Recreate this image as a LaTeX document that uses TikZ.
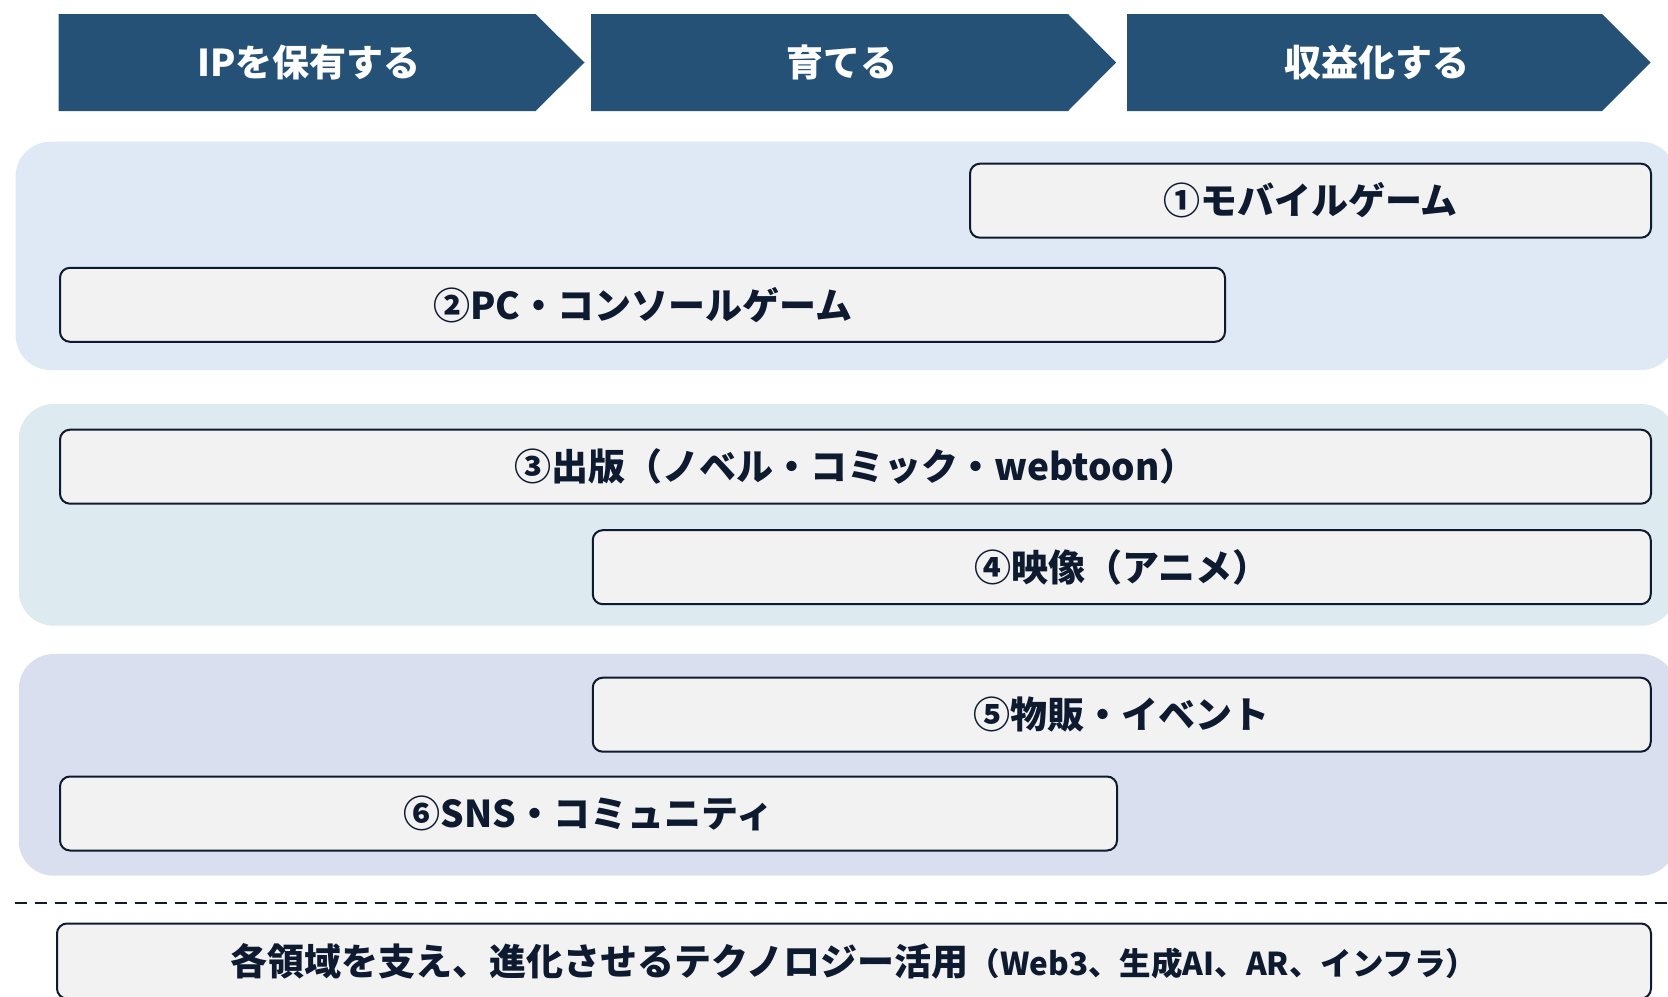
\documentclass[tikz,border=0pt]{standalone}
\usepackage{fontspec}
\newfontfamily\jp{Noto Sans CJK JP}
\definecolor{navy}{HTML}{245175}
\definecolor{ink}{HTML}{0E1A2F}
\definecolor{pA}{HTML}{DEE9F5}
\definecolor{pB}{HTML}{DDEAF0}
\definecolor{pC}{HTML}{D9DFEE}
\definecolor{boxfill}{HTML}{F2F2F2}
\begin{document}
\begin{tikzpicture}[x=1pt,y=-1pt,
  chev/.style={fill=navy},
  chevtext/.style={text=white, font=\jp\bfseries\fontsize{37}{44}\selectfont, inner sep=0pt},
  panel/.style={rounded corners=35pt},
  itembox/.style={draw=ink, line width=2pt, fill=boxfill, rounded corners=10pt, inner sep=0pt,
    font=\jp\bfseries\fontsize{37}{44}\selectfont, text=ink, minimum height=74pt},
  sepline/.style={draw=ink, line width=2pt, dash pattern=on 12pt off 8pt},
]
\useasboundingbox (0,0) rectangle (1668,996);
\clip (0,0) rectangle (1668,996);
\fill[white] (0,0) rectangle (1668,996);

% chevrons
\fill[chev] (58.5,14) -- (535.5,14) -- (584.5,62.5) -- (535.5,111) -- (58.5,111) -- cycle;
\fill[chev] (591,14) -- (1068,14) -- (1116,62.5) -- (1068,111) -- (591,111) -- cycle;
\fill[chev] (1127,14) -- (1602,14) -- (1650.5,62.5) -- (1602,111) -- (1127,111) -- cycle;
\node[chevtext] (c1) at (309,62) {IPを保有する};
\node[chevtext] (c2) at (841.5,62) {育てる};
\node[chevtext] (c3) at (1377,62) {収益化する};

% panels
\fill[pA, panel] (15.6,141.7) rectangle (1676,370);
\fill[pB, panel] (18.75,404) rectangle (1676,625.7);
\fill[pC, panel] (18.75,654) rectangle (1676,875.7);

% boxes
\node[itembox, minimum width=681pt] (b1) at (1310.5,200.7) {①モバイルゲーム};
\node[itembox, minimum width=1165pt] (b2) at (642.5,304.8) {②PC・コンソールゲーム};
\node[itembox, minimum width=1591pt] (b3) at (855.5,466.7) {③出版（ノベル・コミック・webtoon）};
\node[itembox, minimum width=1058pt] (b4) at (1121.75,567.2) {④映像（アニメ）};
\node[itembox, minimum width=1058pt] (b5) at (1121.75,714.7) {⑤物販・イベント};
\node[itembox, minimum width=1057pt] (b6) at (588.5,813.5) {⑥SNS・コミュニティ};

% separator
\coordinate (dL) at (15,903);
\coordinate (dR) at (1668,903);
\draw[sepline] (dL) -- (dR);

% technology box
\node[itembox, minimum width=1594pt, minimum height=75pt] (tech) at (854,961)
  {各領域を支え、進化させるテクノロジー活用{\fontsize{31.5}{37}\selectfont （Web3、生成AI、AR、インフラ）}};
\end{tikzpicture}
\end{document}
